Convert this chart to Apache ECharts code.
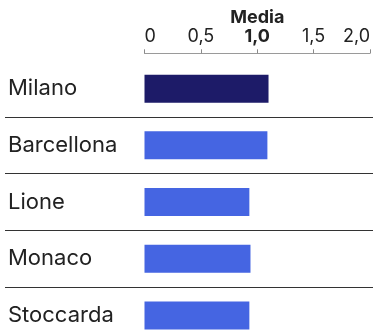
<!DOCTYPE html>
<html>
<head>
<meta charset="utf-8">
<style>
  html, body { margin: 0; padding: 0; background: #fff; }
  #chart { width: 373px; height: 330px; }
</style>
<script src="https://cdn.jsdelivr.net/npm/echarts@6/dist/echarts.min.js"></script>
</head>
<body>
<div id="chart"></div>
<script>
// Cities and their index relative to the average (1,0)
const cities = ['Milano', 'Barcellona', 'Lione', 'Monaco', 'Stoccarda'];
const values = [1.1, 1.09, 0.93, 0.94, 0.93];
const barColors = ['#1d1b68', '#4565e2', '#4565e2', '#4565e2', '#4565e2'];
const tickLabels = { 0: '0', 0.5: '0,5', 1: '1,0', 1.5: '1,5', 2: '2,0' };

const FONT = 'Inter, "Open Sans", sans-serif';
const ROW = 56.7;
const TOP = 60.3;

const chart = echarts.init(document.getElementById('chart'), null, { renderer: 'canvas' });

chart.setOption({
  animation: false,
  grid: [
    { left: 144.5, width: 225.5, top: TOP, height: ROW * cities.length, containLabel: false, outerBoundsMode: 'none' },
    // full-width grid used only for the row separators
    { left: 5, width: 368, top: TOP + ROW, height: ROW * (cities.length - 1), outerBoundsMode: 'none' }
  ],
  xAxis: [
    {
      gridIndex: 0,
      type: 'value',
      position: 'top',
      offset: 7,
      min: 0,
      max: 2,
      interval: 0.5,
      name: 'Media',
      nameLocation: 'middle',
      nameGap: 27,
      nameMoveOverlap: false,
      nameTextStyle: { fontFamily: FONT, fontSize: 18, fontWeight: 'bold', color: '#222' },
      axisLine: { show: true, lineStyle: { color: '#9a9a9a', width: 1 } },
      axisTick: { show: true, length: 4, inside: false, lineStyle: { color: '#8a8a8a' } },
      axisLabel: {
        margin: 8,
        fontFamily: FONT,
        fontSize: 18,
        color: '#222',
        alignMinLabel: 'left',
        alignMaxLabel: 'right',
        formatter: v => {
          const t = tickLabels[v];
          if (t === undefined) return '';
          return v === 1 ? '{b|' + t + '}' : t;
        },
        rich: { b: { fontFamily: FONT, fontSize: 18, fontWeight: 'bold', color: '#222' } }
      },
      splitLine: { show: false }
    },
    { gridIndex: 1, type: 'value', show: false, min: 0, max: 1 }
  ],
  yAxis: [
    {
      gridIndex: 0,
      type: 'category',
      data: cities,
      inverse: true,
      axisLine: { show: false },
      axisTick: { show: false },
      axisLabel: {
        show: true,
        align: 'left',
        margin: 136.5,
        fontFamily: FONT,
        fontSize: 22,
        color: '#222'
      },
      splitLine: { show: false }
    },
    {
      gridIndex: 1,
      type: 'value',
      inverse: true,
      min: 1,
      max: cities.length,
      interval: 1,
      axisLine: { show: false },
      axisTick: { show: false },
      axisLabel: { show: false },
      splitLine: { show: true, lineStyle: { color: '#333', width: 1.2 } }
    }
  ],
  series: [
    {
      type: 'bar',
      xAxisIndex: 0,
      yAxisIndex: 0,
      barWidth: 28,
      data: values.map((v, i) => ({ value: v, itemStyle: { color: barColors[i] } })),
      silent: true
    }
  ]
});
</script>
</body>
</html>
